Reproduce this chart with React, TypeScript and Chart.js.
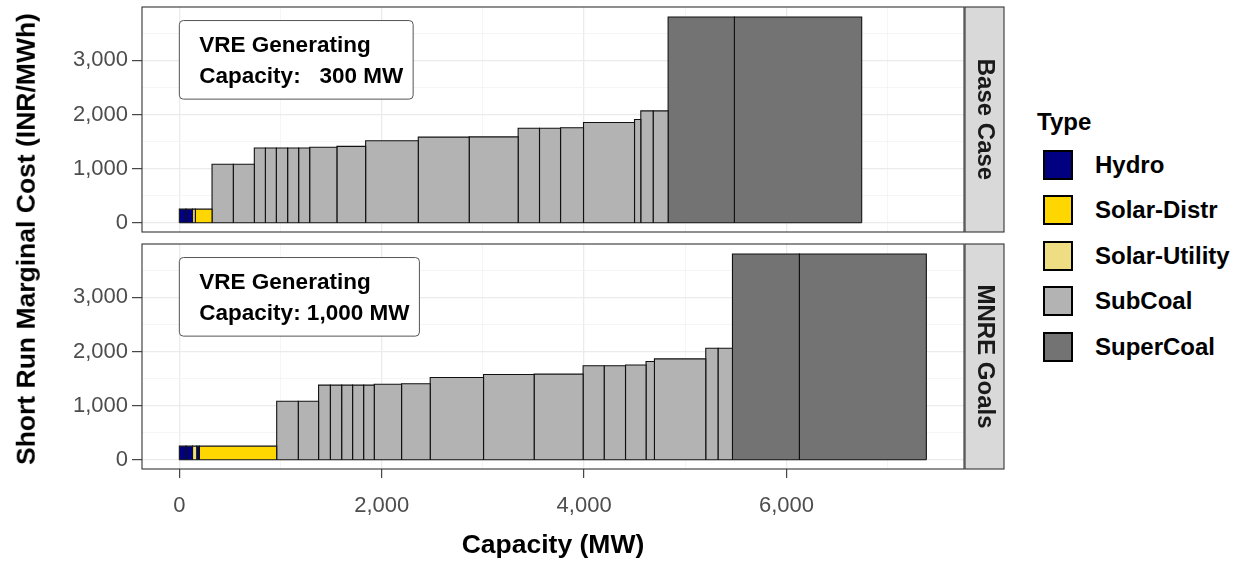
import React, { useEffect, useRef } from "react";
import { Chart, registerables } from "chart.js";
Chart.register(...registerables);

const FONT = '"Liberation Sans", Arial, Helvetica, sans-serif';

// ---------- data ----------
const TYPES = ["Hydro", "Solar-Distr", "Solar-Utility", "SubCoal", "SuperCoal"];
const PANELS = ["Base Case", "MNRE Goals"];
const VRE_TEXT = [
  ["VRE Generating", "Capacity:   300 MW"],
  ["VRE Generating", "Capacity: 1,000 MW"],
];
const LABEL_X = 0;
const LABEL_TOP_Y = 3735;

// Base Case: block edges (MW), short-run marginal cost (INR/MWh), type
const baseEdges = [0, 66, 130, 158, 323, 533, 741, 850, 958, 1070, 1179, 1288, 1557, 1841, 2361, 2864, 3348, 3559, 3767, 3994, 4498, 4560, 4682, 4830, 5485, 6743];
const baseCost = [250, 250, 250, 250, 1080, 1080, 1380, 1380, 1380, 1380, 1380, 1395, 1410, 1515, 1580, 1585, 1745, 1745, 1755, 1852, 1907, 2065, 2065, 3800, 3800];
const baseType = ["Hydro", "Hydro", "Solar-Utility", "Solar-Distr",
  "SubCoal", "SubCoal", "SubCoal", "SubCoal", "SubCoal", "SubCoal", "SubCoal", "SubCoal", "SubCoal", "SubCoal",
  "SubCoal", "SubCoal", "SubCoal", "SubCoal", "SubCoal", "SubCoal", "SubCoal", "SubCoal", "SubCoal",
  "SuperCoal", "SuperCoal"];

// MNRE Goals
const mnreEdges = [0, 66, 130, 172, 198, 962, 1175, 1376, 1492, 1604, 1712, 1821, 1926, 2196, 2479, 3006, 3506, 3990, 4198, 4409, 4612, 4695, 5202, 5323, 5466, 6127, 7382];
const mnreCost = [250, 250, 250, 250, 250, 1081, 1081, 1377, 1377, 1377, 1377, 1377, 1395, 1402, 1518, 1574, 1580, 1735, 1735, 1750, 1814, 1863, 2060, 2060, 3800, 3800];
const mnreType = ["Hydro", "Hydro", "Solar-Utility", "Hydro", "Solar-Distr",
  "SubCoal", "SubCoal", "SubCoal", "SubCoal", "SubCoal", "SubCoal", "SubCoal", "SubCoal", "SubCoal", "SubCoal",
  "SubCoal", "SubCoal", "SubCoal", "SubCoal", "SubCoal", "SubCoal", "SubCoal", "SubCoal", "SubCoal",
  "SuperCoal", "SuperCoal"];

const X_TICKS = [0, 2000, 4000, 6000];
const X_MINOR = [1000, 3000, 5000, 7000];
const Y_TICKS = [0, 1000, 2000, 3000];
const Y_MINOR = [500, 1500, 2500, 3500];
const X_RANGE = [-369, 7754];
const Y_RANGE = [-172, 3985];

// ---------- styles ----------
const TYPE_FILL: Record<string, string> = {
  Hydro: "#000080",
  "Solar-Distr": "#FFD700",
  "Solar-Utility": "#EEDD82",
  SubCoal: "#B3B3B3",
  SuperCoal: "#737373",
};

function roundRectPath(ctx: CanvasRenderingContext2D, x: number, y: number, w: number, h: number, r: number) {
  ctx.beginPath();
  ctx.moveTo(x + r, y);
  ctx.lineTo(x + w - r, y);
  ctx.arcTo(x + w, y, x + w, y + r, r);
  ctx.lineTo(x + w, y + h - r);
  ctx.arcTo(x + w, y + h, x + w - r, y + h, r);
  ctx.lineTo(x + r, y + h);
  ctx.arcTo(x, y + h, x, y + h - r, r);
  ctx.lineTo(x, y + r);
  ctx.arcTo(x, y, x + r, y, r);
  ctx.closePath();
}

const decorPlugin = {
  id: "decor",
  afterDatasetsDraw(chart: any, _args: any, opts: any) {
    const { ctx, chartArea: a, scales } = chart;
    ctx.save();
    ctx.font = `bold 22.5px ${FONT}`;
    const lines: string[] = opts.lines;
    const tw = Math.max(...lines.map((l) => ctx.measureText(l).width));
    const left = scales.x.getPixelForValue(LABEL_X);
    const top = scales.y.getPixelForValue(LABEL_TOP_Y);
    const w = tw + 30;
    const h = 78.6;
    roundRectPath(ctx, left, top, w, h, 4);
    ctx.fillStyle = "#FFFFFF";
    ctx.fill();
    ctx.strokeStyle = "#555555";
    ctx.lineWidth = 1;
    ctx.stroke();
    ctx.fillStyle = "#000000";
    ctx.textAlign = "left";
    ctx.textBaseline = "alphabetic";
    ctx.fillText(lines[0], left + 20, top + 31.2);
    ctx.fillText(lines[1], left + 20, top + 62.8);
    ctx.strokeStyle = "#333333";
    ctx.lineWidth = 1.1;
    ctx.strokeRect(a.left, a.top, a.right - a.left, a.bottom - a.top);
    ctx.restore();
  },
  afterDraw(chart: any, _args: any, opts: any) {
    const { ctx, chartArea: a } = chart;
    ctx.save();
    const sx = a.right + 1;
    const sw = 39;
    ctx.fillStyle = "#D9D9D9";
    ctx.fillRect(sx, a.top, sw, a.bottom - a.top);
    ctx.strokeStyle = "#333333";
    ctx.lineWidth = 1.1;
    ctx.strokeRect(sx, a.top, sw, a.bottom - a.top);
    ctx.translate(sx + sw / 2, (a.top + a.bottom) / 2);
    ctx.rotate(Math.PI / 2);
    ctx.font = `bold 24px ${FONT}`;
    ctx.fillStyle = "#1A1A1A";
    ctx.textAlign = "center";
    ctx.textBaseline = "middle";
    ctx.fillText(opts.strip, 0, 0);
    ctx.restore();
  },
};

function makeConfig(p: number, showX: boolean): any {
  const edges = p === 0 ? baseEdges : mnreEdges;
  const cost = p === 0 ? baseCost : mnreCost;
  const type = p === 0 ? baseType : mnreType;
  const blocks = cost.map((c, i) => ({
    label: type[i],
    data: [
      { x: edges[i], y: 0 },
      { x: edges[i], y: c },
      { x: edges[i + 1], y: c },
      { x: edges[i + 1], y: 0 },
    ],
    backgroundColor: TYPE_FILL[type[i]],
    borderColor: "#111111",
    borderWidth: 1.1,
    fill: "origin",
    pointRadius: 0,
    pointHoverRadius: 0,
    pointHitRadius: 0,
    tension: 0,
    borderJoinStyle: "miter",
  }));
  const baseLine = {
    label: "base",
    data: [
      { x: edges[0], y: 0 },
      { x: edges[edges.length - 1], y: 0 },
    ],
    borderColor: "#111111",
    borderWidth: 1.1,
    fill: false,
    pointRadius: 0,
    pointHitRadius: 0,
  };
  const tickFont = { family: FONT, size: 22 };
  return {
    type: "line",
    data: { datasets: [baseLine, ...blocks] },
    options: {
      responsive: false,
      animation: false,
      events: [],
      layout: {
        padding: showX ? { top: 4, right: 46, bottom: 0, left: 0 } : { top: 7, right: 46, bottom: 8, left: 0 },
      },
      plugins: {
        legend: { display: false },
        tooltip: { enabled: false },
        decor: { lines: VRE_TEXT[p], strip: PANELS[p] },
      },
      scales: {
        x: {
          type: "linear",
          min: X_RANGE[0],
          max: X_RANGE[1],
          afterBuildTicks: (s: any) => {
            s.ticks = [...X_TICKS, ...X_MINOR].sort((a, b) => a - b).map((v) => ({ value: v }));
          },
          afterFit: (s: any) => {
            s.height = showX ? 96 : 0;
            s.paddingLeft = 0;
            s.paddingRight = 0;
          },
          ticks: {
            display: showX,
            autoSkip: false,
            maxRotation: 0,
            minRotation: 0,
            padding: 15,
            color: "#4D4D4D",
            font: tickFont,
            callback: (v: number) => (X_TICKS.includes(v) ? v.toLocaleString("en-US") : ""),
          },
          grid: {
            drawTicks: showX,
            tickLength: 9,
            tickWidth: 1.1,
            tickColor: (c: any) => (c.tick && X_TICKS.includes(c.tick.value) ? "#333333" : "rgba(0,0,0,0)"),
            color: (c: any) => (c.tick && X_TICKS.includes(c.tick.value) ? "#EBEBEB" : "#F2F2F2"),
            lineWidth: (c: any) => (c.tick && X_TICKS.includes(c.tick.value) ? 1.3 : 0.8),
          },
          border: { display: false },
          title: {
            display: showX,
            text: "Capacity (MW)",
            color: "#000000",
            font: { family: FONT, size: 26.5, weight: "bold" },
            padding: { top: 0, bottom: 3 },
          },
        },
        y: {
          type: "linear",
          min: Y_RANGE[0],
          max: Y_RANGE[1],
          afterBuildTicks: (s: any) => {
            s.ticks = [...Y_TICKS, ...Y_MINOR].sort((a, b) => a - b).map((v) => ({ value: v }));
          },
          afterFit: (s: any) => {
            s.width = 142;
            s.paddingTop = 0;
            s.paddingBottom = 0;
          },
          ticks: {
            autoSkip: false,
            padding: 4,
            color: "#4D4D4D",
            font: tickFont,
            callback: (v: number) => (Y_TICKS.includes(v) ? v.toLocaleString("en-US") : ""),
          },
          grid: {
            tickLength: 10,
            tickWidth: 1.1,
            tickColor: (c: any) => (c.tick && Y_TICKS.includes(c.tick.value) ? "#333333" : "rgba(0,0,0,0)"),
            color: (c: any) => (c.tick && Y_TICKS.includes(c.tick.value) ? "#EBEBEB" : "#F2F2F2"),
            lineWidth: (c: any) => (c.tick && Y_TICKS.includes(c.tick.value) ? 1.3 : 0.8),
          },
          border: { display: false },
        },
      },
    },
    plugins: [decorPlugin],
  };
}

const LEG_Y0 = 164.7;
const LEG_DY = 45.5;

export default function App() {
  const topRef = useRef<HTMLCanvasElement>(null);
  const botRef = useRef<HTMLCanvasElement>(null);
  useEffect(() => {
    const c1 = new Chart(topRef.current as HTMLCanvasElement, makeConfig(0, false));
    const c2 = new Chart(botRef.current as HTMLCanvasElement, makeConfig(1, true));
    return () => {
      c1.destroy();
      c2.destroy();
    };
  }, []);
  const labelFont = `bold 24px ${FONT}`;
  return (
    <div style={{ position: "absolute", left: 0, top: 0, width: 1239, height: 565, background: "#FFFFFF", overflow: "hidden", fontFamily: FONT }}>
      <canvas ref={topRef} width={1010} height={240} style={{ position: "absolute", left: 0, top: 0, width: 1010, height: 240 }} />
      <canvas ref={botRef} width={1010} height={325} style={{ position: "absolute", left: 0, top: 240, width: 1010, height: 325 }} />
      <div
        style={{
          position: "absolute",
          left: 26,
          top: 238.5,
          transform: "translate(-50%, -50%) rotate(-90deg)",
          whiteSpace: "nowrap",
          font: `bold 26.5px ${FONT}`,
          lineHeight: "26.5px",
          color: "#000000",
        }}
      >
        Short Run Marginal Cost (INR/MWh)
      </div>
      <div style={{ position: "absolute", left: 1037, top: 109.5, font: labelFont, lineHeight: "24px", color: "#000000", whiteSpace: "nowrap" }}>Type</div>
      {TYPES.map((t, i) => (
        <React.Fragment key={t}>
          <div
            style={{
              position: "absolute",
              left: 1043,
              top: LEG_Y0 + i * LEG_DY - 15,
              width: 30,
              height: 30,
              boxSizing: "border-box",
              border: "2.5px solid #000000",
              background: TYPE_FILL[t],
            }}
          />
          <div
            style={{
              position: "absolute",
              left: 1095,
              top: LEG_Y0 + i * LEG_DY - 12,
              font: labelFont,
              lineHeight: "24px",
              color: "#000000",
              whiteSpace: "nowrap",
            }}
          >
            {t}
          </div>
        </React.Fragment>
      ))}
    </div>
  );
}
